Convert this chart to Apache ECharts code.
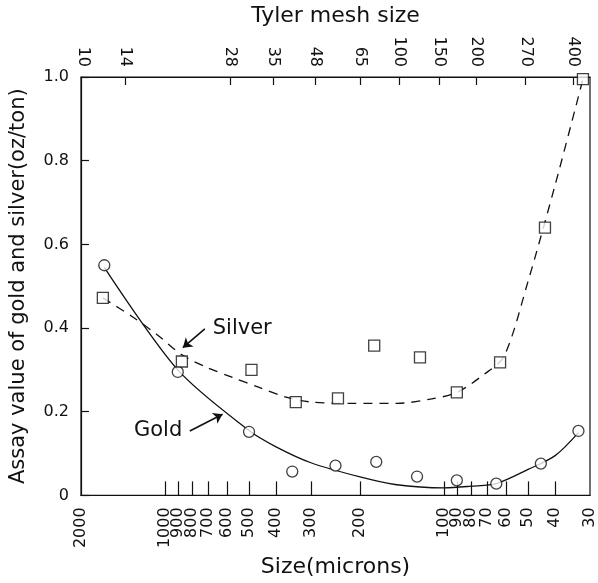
<!DOCTYPE html>
<html>
<head>
<meta charset="utf-8">
<script src="https://cdn.jsdelivr.net/npm/echarts@6/dist/echarts.min.js"></script>
<style>
  html, body { margin: 0; padding: 0; background: #fff; }
  #chart { width: 598px; height: 583px; }
</style>
</head>
<body>
<div id="chart"></div>
<script>
// bottom axis tick values (microns)
const micronTicks = [2000, 1000, 900, 800, 700, 600, 500, 400, 300, 200, 100, 90, 80, 70, 60, 50, 40, 30]
// top axis: Tyler mesh labels and where they sit on the micron scale
const meshLabels = ['10', '14', '28', '35', '48', '65', '100', '150', '200', '270', '400']
const meshAtMicrons = [1970, 1390, 585, 410, 290, 200, 145, 104, 77, 51, 34.5]

// measured points
const goldSize = [1650, 900, 500, 350, 245, 175, 125, 90, 65, 45, 33]
const goldAssay = [0.55, 0.295, 0.152, 0.057, 0.071, 0.08, 0.045, 0.036, 0.028, 0.076, 0.154]
const silverSize = [1670, 870, 490, 340, 240, 178, 122, 90, 63, 43.5, 31.8]
const silverAssay = [0.472, 0.32, 0.3, 0.223, 0.232, 0.358, 0.33, 0.246, 0.318, 0.64, 0.995]

// fitted curves
const goldFitSize = [1650, 900, 500, 400, 300, 200, 150, 100, 80, 65, 50, 40, 33]
const goldFitAssay = [0.545, 0.3, 0.155, 0.116, 0.078, 0.044, 0.026, 0.018, 0.022, 0.028, 0.062, 0.095, 0.15]
const silverFitSize = [1670, 1309, 1067, 870, 709, 573, 460, 369, 298, 215, 147, 112, 90, 72, 61, 50, 40, 31.8]
const silverFitAssay = [0.472, 0.427, 0.384, 0.336, 0.306, 0.282, 0.258, 0.235, 0.223, 0.22, 0.22, 0.23, 0.246, 0.289, 0.332, 0.512, 0.742, 0.995]

const FONT = 'DejaVu Sans'
const INK = '#111'

function zip(xs, ys) {
  return xs.map((x, i) => [x, ys[i]])
}

function buildOption() {
  return {
    animation: false,
    backgroundColor: '#fff',
    grid: { left: 80, right: 3, top: 76, bottom: 85, show: true, borderColor: INK, borderWidth: 1.2 },
    xAxis: [
      {
        type: 'log',
        logBase: 10,
        inverse: true,
        min: 30,
        max: 2000,
        position: 'bottom',
        name: 'Size(microns)',
        nameLocation: 'middle',
        nameGap: 60,
        nameTextStyle: { fontFamily: FONT, fontSize: 22, color: INK },
        axisLine: { lineStyle: { color: INK, width: 1.2 } },
        axisTick: { inside: true, length: 14, customValues: micronTicks.slice(1, -1), lineStyle: { color: INK, width: 1.2 } },
        axisLabel: {
          customValues: micronTicks,
          rotate: 90,
          margin: 12,
          fontFamily: FONT,
          fontSize: 16,
          color: INK,
          formatter: (v) => String(Math.round(v)),
        },
        splitLine: { show: false },
        minorTick: { show: false },
      },
      {
        type: 'log',
        logBase: 10,
        inverse: true,
        min: 30,
        max: 2000,
        position: 'top',
        name: 'Tyler mesh size',
        nameLocation: 'middle',
        nameGap: 50,
        nameTextStyle: { fontFamily: FONT, fontSize: 22, color: INK },
        axisLine: { lineStyle: { color: INK, width: 1.2 } },
        axisTick: { inside: true, length: 8, customValues: meshAtMicrons.slice(1), lineStyle: { color: INK, width: 1.2 } },
        axisLabel: {
          customValues: meshAtMicrons,
          rotate: 90,
          margin: 10,
          fontFamily: FONT,
          fontSize: 16,
          color: INK,
          formatter: (v) => {
            const i = meshAtMicrons.findIndex((m) => Math.abs(m - v) / m < 1e-3)
            return i >= 0 ? meshLabels[i] : ''
          },
        },
        splitLine: { show: false },
      },
    ],
    yAxis: {
      type: 'value',
      min: 0,
      max: 1,
      interval: 0.2,
      name: 'Assay value of gold and silver(oz/ton)',
      nameLocation: 'middle',
      nameGap: 52,
      nameTextStyle: { fontFamily: FONT, fontSize: 21, color: INK },
      axisLine: { show: true, lineStyle: { color: INK, width: 1.2 } },
      axisTick: { show: true, inside: true, length: 8, lineStyle: { color: INK, width: 1.2 } },
      axisLabel: {
        margin: 12,
        fontFamily: FONT,
        fontSize: 16,
        color: INK,
        formatter: (v) => (v === 0 ? '0' : v.toFixed(1)),
      },
      splitLine: { show: false },
    },
    series: [
      {
        name: 'Gold fit',
        type: 'line',
        data: zip(goldFitSize, goldFitAssay),
        smooth: 0.3,
        showSymbol: false,
        lineStyle: { color: INK, width: 1.3 },
        silent: true,
        markLine: {
          silent: true,
          symbol: ['none', 'arrow'],
          symbolSize: 9,
          label: { show: false },
          lineStyle: { color: INK, width: 1.6, type: 'solid', curveness: -0.3 },
          data: [[{ coord: [815, 0.154] }, { coord: [622, 0.194] }]],
        },
        markPoint: {
          silent: true,
          symbol: 'circle',
          symbolSize: 1,
          itemStyle: { color: 'rgba(0,0,0,0)' },
          label: { show: true, position: 'left', distance: 2, formatter: 'Gold', fontFamily: FONT, fontSize: 21, color: INK },
          data: [{ coord: [850, 0.154] }],
        },
      },
      {
        name: 'Silver fit',
        type: 'line',
        data: zip(silverFitSize, silverFitAssay),
        smooth: 0.3,
        showSymbol: false,
        lineStyle: { color: INK, width: 1.3, type: [9, 7] },
        silent: true,
        markLine: {
          silent: true,
          symbol: ['none', 'arrow'],
          symbolSize: 9,
          label: { show: false },
          lineStyle: { color: INK, width: 1.6, type: 'solid', curveness: 0.3 },
          data: [[{ coord: [720, 0.398] }, { coord: [863, 0.353] }]],
        },
        markPoint: {
          silent: true,
          symbol: 'circle',
          symbolSize: 1,
          itemStyle: { color: 'rgba(0,0,0,0)' },
          label: { show: true, position: 'right', distance: 4, formatter: 'Silver', fontFamily: FONT, fontSize: 21, color: INK },
          data: [{ coord: [700, 0.398] }],
        },
      },
      {
        name: 'Gold',
        type: 'scatter',
        data: zip(goldSize, goldAssay),
        symbol: 'circle',
        symbolSize: 11,
        itemStyle: { color: '#fff', borderColor: INK, borderWidth: 1.3 },
        z: 5,
      },
      {
        name: 'Silver',
        type: 'scatter',
        data: zip(silverSize, silverAssay),
        symbol: 'rect',
        symbolSize: 11,
        itemStyle: { color: '#fff', borderColor: INK, borderWidth: 1.3 },
        z: 5,
      },
    ],
  }
}

const chart = echarts.init(document.getElementById('chart'), null, { renderer: 'canvas' })
chart.setOption(buildOption())
</script>
</body>
</html>
